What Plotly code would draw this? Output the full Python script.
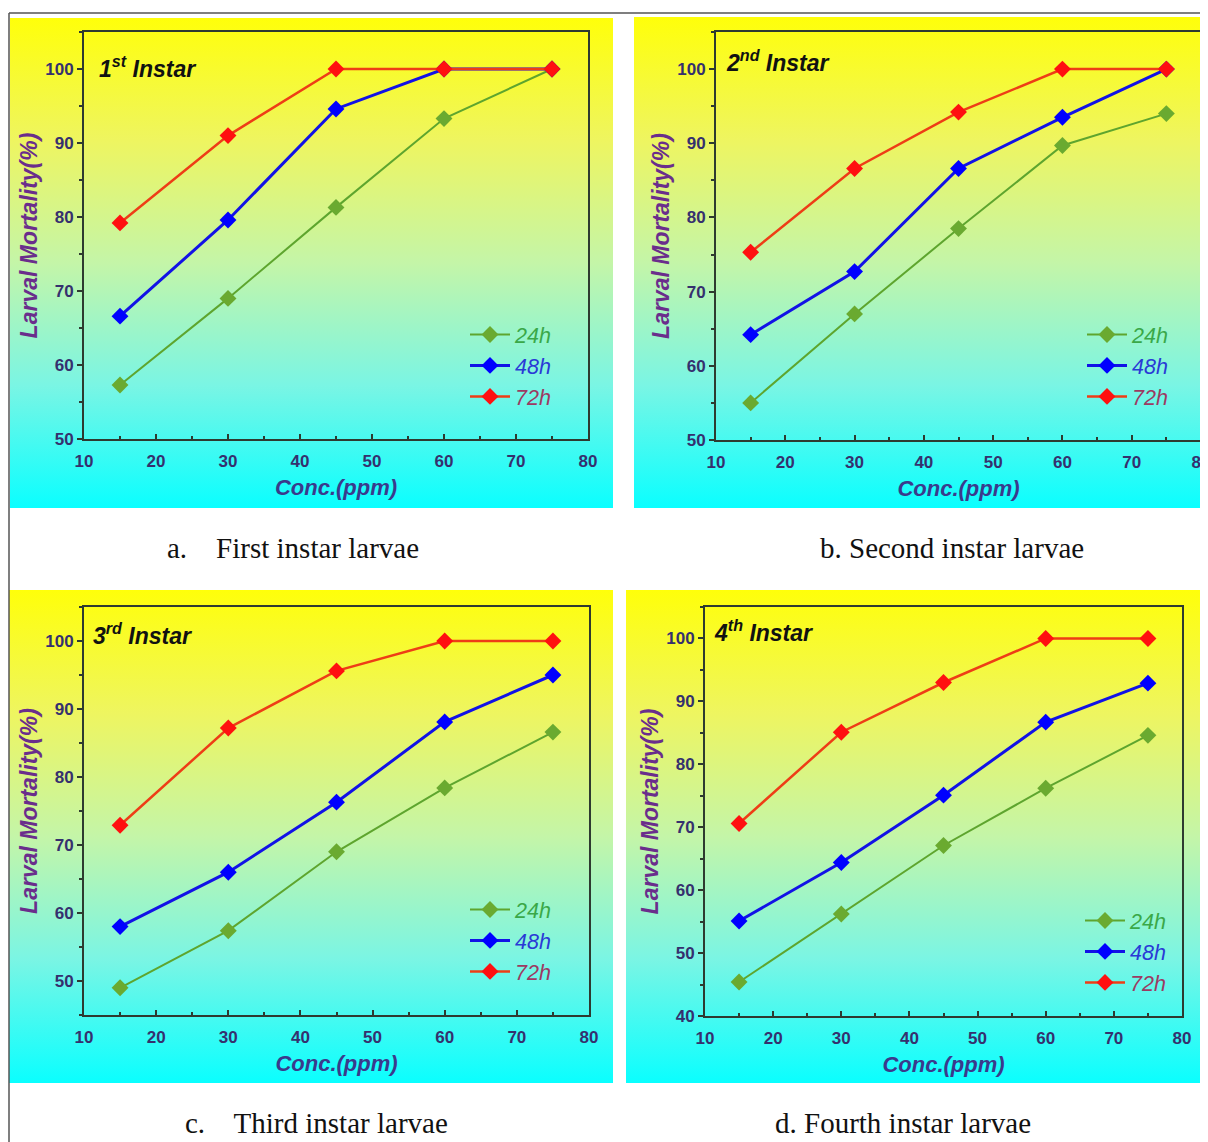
import base64
import plotly.graph_objects as go

# The page body adds an 8 px margin, so the figure is sized to fill the
# remaining window and all positions below are window pixels.
OX, OY = 8, 8
W, H = 1208 - OX, 1142 - OY

# ---------------- data ----------------
conc = [15, 30, 45, 60, 75]
hours = ["24h", "48h", "72h"]

a_24 = [57.3, 69.0, 81.3, 93.3, 100]
a_48 = [66.6, 79.6, 94.6, 100, 100]
a_72 = [79.2, 91.0, 100, 100, 100]

b_24 = [55.0, 67.0, 78.5, 89.7, 94.0]
b_48 = [64.2, 72.7, 86.6, 93.5, 100]
b_72 = [75.3, 86.6, 94.2, 100, 100]

c_24 = [49.0, 57.4, 69.0, 78.4, 86.6]
c_48 = [58.0, 66.0, 76.3, 88.1, 95.0]
c_72 = [72.9, 87.2, 95.6, 100, 100]

d_24 = [45.4, 56.2, 67.1, 76.2, 84.6]
d_48 = [55.1, 64.4, 75.1, 86.7, 92.9]
d_72 = [70.6, 85.1, 93.0, 100, 100]

panel_titles = ["1<sup>st</sup> Instar", "2<sup>nd</sup> Instar",
                "3<sup>rd</sup> Instar", "4<sup>th</sup> Instar"]
captions = ["a.    First instar larvae", "b. Second instar larvae",
            "c.    Third instar larvae", "d. Fourth instar larvae"]
y_ranges = [[50, 105], [50, 105], [45, 105], [40, 105]]

series = [[a_24, a_48, a_72], [b_24, b_48, b_72],
          [c_24, c_48, c_72], [d_24, d_48, d_72]]

# ---------------- styling ----------------
line_cols = ["#5ea52e", "#1212e6", "#ee3d16"]
mark_cols = ["#6aaa30", "#0000ff", "#ff1010"]
line_w = [2, 3, 2.5]
text_cols = ["#3aa848", "#2a3ad6", "#9c3a62"]


def px(x):
    return (x - OX) / W


def py(y):
    return 1 - (y - OY) / H


# layout boxes in window pixels: (plot x0, x1, y_top, y_bottom)
plots = [(84, 588, 32, 439), (716, 1201, 32, 440),
         (84, 589, 607, 1015), (705, 1182, 607, 1016)]
bgs = [(10, 613, 18, 508), (634, 1208, 17, 508),
       (9, 613, 590, 1083), (626, 1207, 590, 1083)]
title_pos = [(97, 67), (724, 61), (91, 634), (712, 631)]
legend_pos = [(465, 314), (1082, 314), (465, 889), (1080, 900)]
caption_pos = [(293, 548), (952, 548), (316, 1123), (903, 1123)]

svg = ('<svg xmlns="http://www.w3.org/2000/svg" width="100" height="100" '
       'viewBox="0 0 100 100" preserveAspectRatio="none">'
       '<defs><linearGradient id="g" x1="0" y1="0" x2="0" y2="1">'
       '<stop offset="0" stop-color="#ffff0a"/>'
       '<stop offset="0.25" stop-color="#eef560"/>'
       '<stop offset="0.5" stop-color="#c4f5a8"/>'
       '<stop offset="0.75" stop-color="#7af5e4"/>'
       '<stop offset="1" stop-color="#0affff"/>'
       '</linearGradient></defs>'
       '<rect x="0" y="0" width="100" height="100" fill="url(#g)"/></svg>')
svg_uri = "data:image/svg+xml;base64," + base64.b64encode(svg.encode()).decode()

fig = go.Figure()
layout = dict(
    width=W, height=H,
    margin=dict(l=0, r=0, t=0, b=0, autoexpand=False),
    paper_bgcolor="white",
    plot_bgcolor="rgba(0,0,0,0)",
    font=dict(family="Arial, Liberation Sans, sans-serif"),
    showlegend=True,
    images=[], annotations=[], shapes=[],
)

for i in range(4):
    sfx = "" if i == 0 else str(i + 1)
    xa, ya = "x" + sfx, "y" + sfx
    lg = "legend" + sfx
    for k in range(3):
        fig.add_trace(go.Scatter(
            x=conc, y=series[i][k], xaxis=xa, yaxis=ya,
            mode="lines+markers",
            name=f"<i><span style='color:{text_cols[k]}'>{hours[k]}</span></i>",
            line=dict(color=line_cols[k], width=line_w[k]),
            marker=dict(symbol="diamond", size=13, color=mark_cols[k],
                        line=dict(width=0)),
            legend=lg, cliponaxis=False,
        ))
    x0, x1, yt, yb = plots[i]
    layout["xaxis" + sfx] = dict(
        domain=[px(x0), min(px(x1), 1)], anchor=ya, range=[10, 80], dtick=10,
        automargin=False, ticklabeloverflow="allow",
        showline=True, mirror=True, linecolor="#2e3a30", linewidth=2,
        ticks="inside", ticklen=5, tickwidth=1.5, tickcolor="#2e3a30",
        minor=dict(ticks="inside", ticklen=3, dtick=5, tickcolor="#2e3a30"),
        ticklabelstandoff=6,
        tickfont=dict(size=17, color="#35306e", weight="bold"),
        showgrid=False, zeroline=False,
        title=dict(text="<i>Conc.(ppm)</i>", standoff=9,
                   font=dict(size=22, color="#3a3a8c", weight="bold")),
    )
    layout["yaxis" + sfx] = dict(
        domain=[py(yb), py(yt)], anchor=xa, range=y_ranges[i], dtick=10,
        automargin=False,
        showline=True, mirror=True, linecolor="#2e3a30", linewidth=2,
        ticks="outside", ticklen=5, tickwidth=1.5, tickcolor="#2e3a30",
        minor=dict(ticks="outside", ticklen=3, dtick=5, tickcolor="#2e3a30"),
        tickfont=dict(size=17, color="#35306e", weight="bold"),
        showgrid=False, zeroline=False,
        title=dict(text="<i>Larval Mortality(%)</i>", standoff=1,
                   font=dict(size=23, color="#6a2d8c", weight="bold")),
    )
    lx, ly = legend_pos[i]
    layout[lg] = dict(
        x=px(lx), y=py(ly), xanchor="left", yanchor="top",
        bgcolor="rgba(0,0,0,0)", borderwidth=0,
        font=dict(size=21.5, family="Arial, Liberation Sans, sans-serif"),
        itemwidth=40, tracegroupgap=0,
    )
    bx0, bx1, byt, byb = bgs[i]
    layout["images"].append(dict(
        source=svg_uri, xref="paper", yref="paper",
        x=px(bx0), y=py(byt), sizex=px(bx1) - px(bx0), sizey=py(byt) - py(byb),
        xanchor="left", yanchor="top", sizing="stretch", layer="below",
    ))
    tx, ty = title_pos[i]
    layout["annotations"].append(dict(
        text=f"<b><i>{panel_titles[i]}</i></b>", xref="paper", yref="paper",
        x=px(tx), y=py(ty), xanchor="left", yanchor="middle", showarrow=False,
        font=dict(size=23, color="#111111"),
    ))
    cx, cy = caption_pos[i]
    layout["annotations"].append(dict(
        text=captions[i], xref="paper", yref="paper",
        x=px(cx), y=py(cy), xanchor="center", yanchor="middle", showarrow=False,
        font=dict(size=29, color="#111111",
                  family="Liberation Serif, Times New Roman, serif"),
    ))

# outer frame lines (top and left)
layout["shapes"].append(dict(type="line", xref="paper", yref="paper",
                             x0=px(9), x1=1, y0=py(13), y1=py(13),
                             line=dict(color="#555555", width=1.5)))
layout["shapes"].append(dict(type="line", xref="paper", yref="paper",
                             x0=px(9), x1=px(9), y0=py(13), y1=0,
                             line=dict(color="#555555", width=1.5)))

fig.update_layout(**layout)
fig.write_html("out.html")
